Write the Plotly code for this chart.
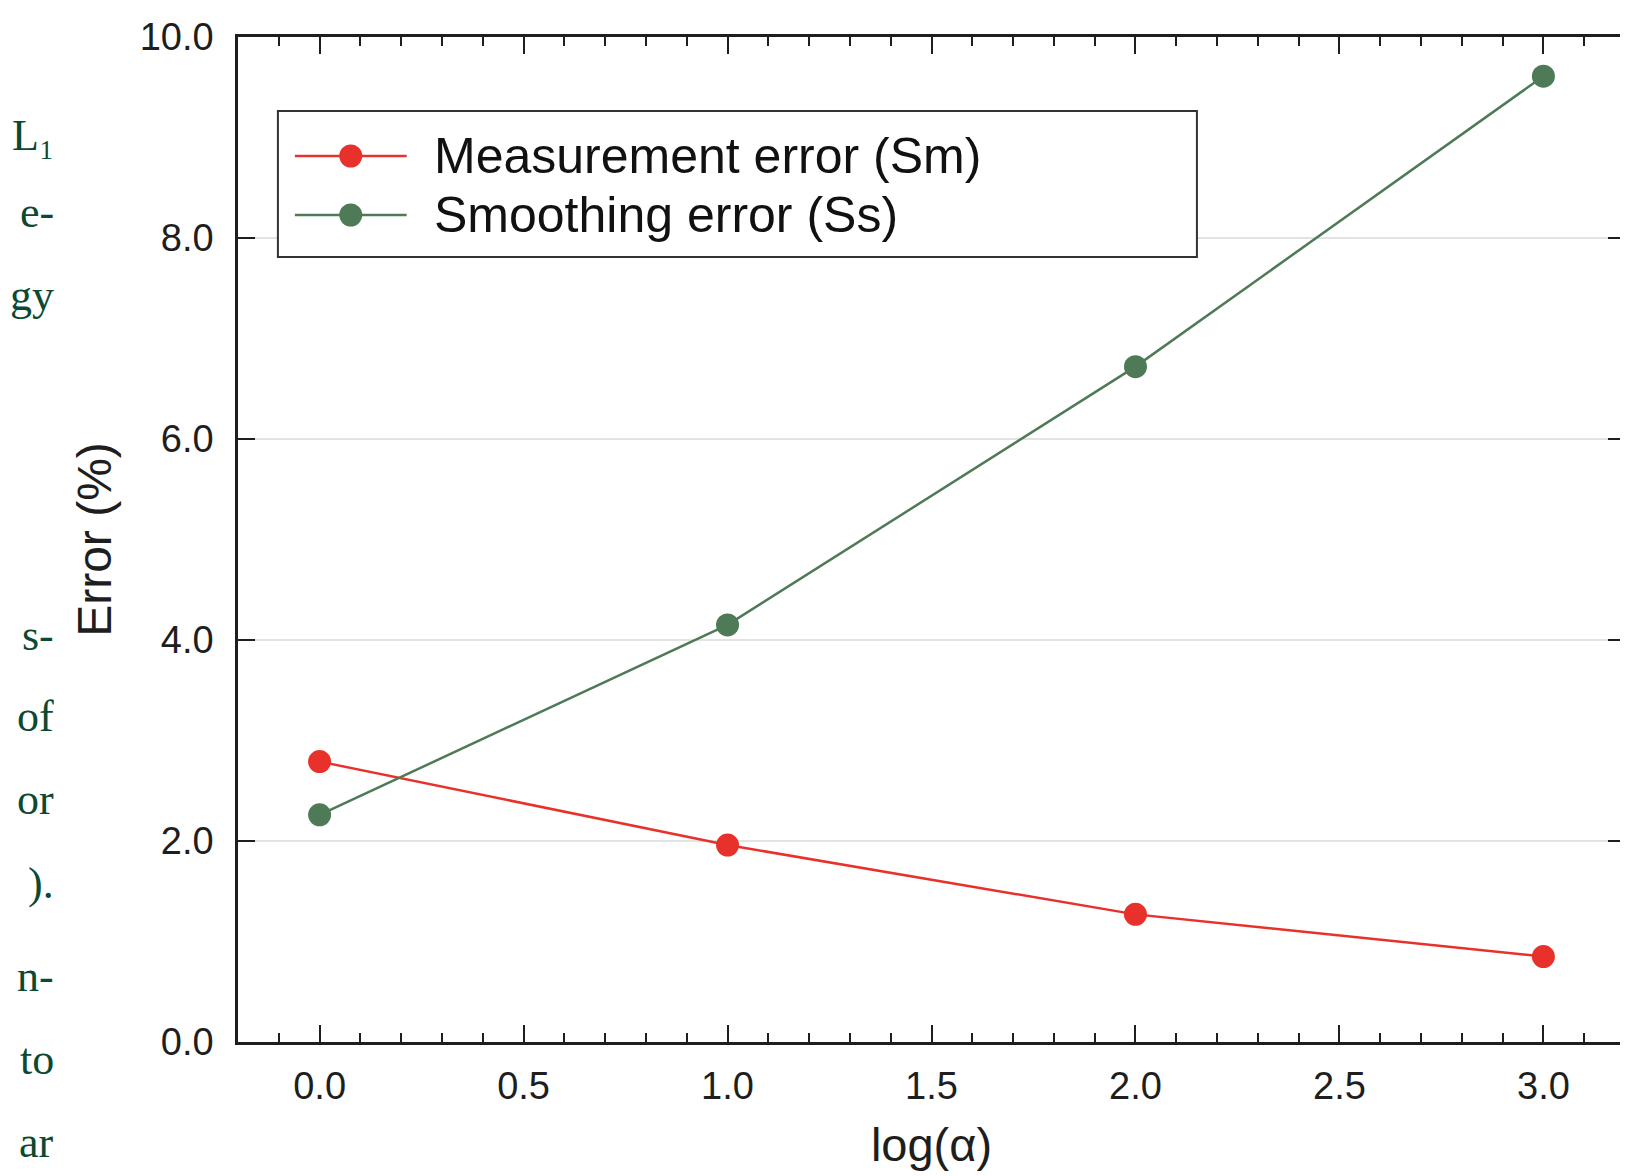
import plotly.graph_objects as go

log_alpha = [0.0, 1.0, 2.0, 3.0]
measurement_error = [2.79, 1.96, 1.27, 0.85]
smoothing_error = [2.26, 4.15, 6.72, 9.61]
series_names = ["Measurement error (Sm)", "Smoothing error (Ss)"]

x_ticks = [0.0, 0.5, 1.0, 1.5, 2.0, 2.5, 3.0]
y_ticks = [0.0, 2.0, 4.0, 6.0, 8.0, 10.0]

side_text = ["L\u2081", "e-", "gy", "s-", "of", "or", ").", "n-", "to", "ar"]
side_text_y = [135, 213, 296, 635, 716, 799, 883, 976, 1059, 1142]

RED = "#E8312A"
GREEN = "#4E7A57"
INK = "#1E1E1E"

# page body has an 8px margin; plot area in window pixels:
PX0, PX1, PY0, PY1 = 238, 1628, 37, 1042
OFF = 8
W, H = 1620, 1168
L = PX0 - OFF
T = PY0 - OFF
R = 0
B = H - T - (PY1 - PY0)
PW, PH = PX1 - PX0, PY1 - PY0


def px(xw):
    return (xw - PX0) / PW


def py(yw):
    return (PY1 - yw) / PH


fig = go.Figure()
fig.add_trace(go.Scatter(x=log_alpha, y=measurement_error, mode="lines+markers",
                         name=series_names[0],
                         line=dict(color=RED, width=2.5),
                         marker=dict(color=RED, size=23)))
fig.add_trace(go.Scatter(x=log_alpha, y=smoothing_error, mode="lines+markers",
                         name=series_names[1],
                         line=dict(color=GREEN, width=2.5),
                         marker=dict(color=GREEN, size=23)))

sans = "Liberation Sans, Arial"
axis_font = dict(family=sans, size=38, color=INK)
fig.update_xaxes(range=[-0.2, 3.2], tickvals=x_ticks, tickformat=".1f",
                 ticks="inside", ticklen=17, tickwidth=2, tickcolor=INK,
                 showline=True, linecolor=INK, linewidth=2.5, mirror="allticks",
                 showgrid=False, zeroline=False, tickfont=axis_font,
                 ticklabelstandoff=9,
                 minor=dict(dtick=0.1, ticks="inside", ticklen=9, tickwidth=1.5,
                            tickcolor=INK, showgrid=False),
                 title=dict(text="log(\u03b1)", font=dict(family=sans, size=47, color=INK),
                            standoff=22))
fig.update_yaxes(range=[0, 10], tickvals=y_ticks, tickformat=".1f",
                 ticks="inside", ticklen=17, tickwidth=2, tickcolor=INK,
                 showline=True, linecolor=INK, linewidth=2.5, mirror="allticks",
                 showgrid=True, gridcolor="#E3E3E3", gridwidth=1.5, zeroline=False,
                 tickfont=axis_font, ticklabelstandoff=14,
                 title=dict(text="Error (%)", font=dict(family=sans, size=48, color=INK),
                            standoff=13))

annotations = []
for t, yy in zip(side_text, side_text_y):
    annotations.append(dict(text=t, xref="paper", yref="paper",
                            x=px(56), y=py(yy),
                            xanchor="right", yanchor="middle", showarrow=False,
                            font=dict(family="Liberation Serif, DejaVu Serif", size=44, color="#0B4A32")))

# legend (drawn as a boxed key)
shapes = [dict(type="rect", xref="paper", yref="paper",
               x0=px(278), x1=px(1199), y0=py(257), y1=py(111),
               line=dict(color="#333333", width=2), fillcolor="white", layer="above")]
leg_y = [156, 215]
for name, color, yy in zip(series_names, [RED, GREEN], leg_y):
    shapes.append(dict(type="line", xref="paper", yref="paper",
                       x0=px(295), x1=px(407), y0=py(yy), y1=py(yy),
                       line=dict(color=color, width=2.5), layer="above"))
    shapes.append(dict(type="circle", xref="paper", yref="paper",
                       x0=px(351 - 11.5), x1=px(351 + 11.5), y0=py(yy + 11.5), y1=py(yy - 11.5),
                       line=dict(color=color, width=0), fillcolor=color, layer="above"))
    annotations.append(dict(text=name, xref="paper", yref="paper", x=px(432), y=py(yy),
                            xanchor="left", yanchor="middle", showarrow=False,
                            font=dict(family=sans, size=50, color="#111111")))

fig.update_layout(
    width=W, height=H,
    margin=dict(l=L, r=R, t=T, b=B),
    paper_bgcolor="white", plot_bgcolor="white",
    showlegend=False,
    annotations=annotations,
    shapes=shapes,
)
fig.write_html("out.html")
